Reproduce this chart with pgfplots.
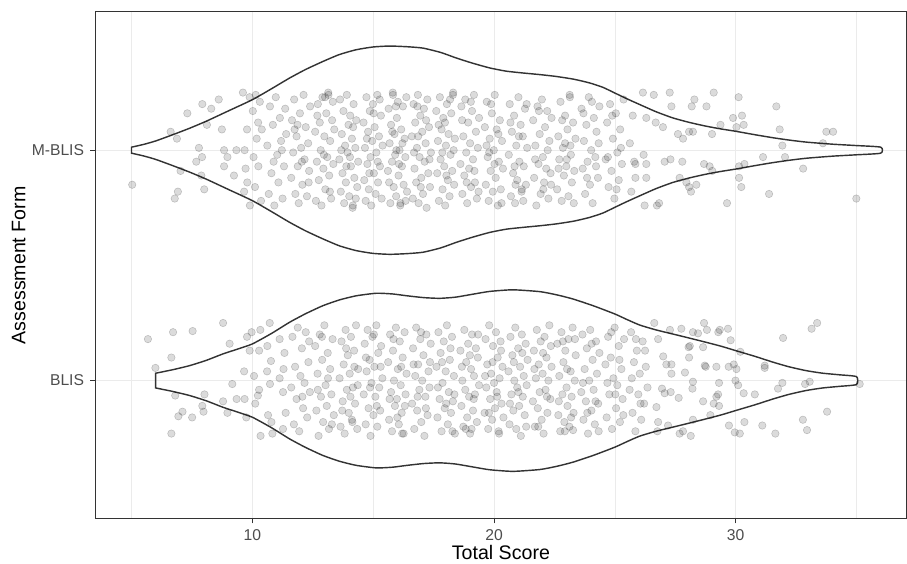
\documentclass[border=0pt]{standalone}
\usepackage{pgfplots}
\usepackage{pgfplotstable}
\pgfplotsset{compat=1.18}
\usepackage{fontspec}
\setmainfont{Liberation Sans}

\definecolor{gray20}{HTML}{333333}
\definecolor{gray30}{HTML}{4D4D4D}
\definecolor{gray92}{HTML}{EBEBEB}

% jittered scores, M-BLIS (centre y=2)
\pgfplotstableread{
x y
5.03 1.85
6.62 2.08
6.88 2.05
6.79 1.79
6.92 1.82
7.03 1.91
7.31 2.16
7.68 1.95
7.79 2.01
7.92 1.97
7.89 1.89
7.93 2.20
8.01 1.83
8.12 2.11
8.30 2.18
8.61 2.22
8.74 2.09
8.83 2.00
8.83 1.93
8.97 1.97
9.24 1.89
9.34 2.00
9.61 2.25
9.68 2.00
9.72 1.92
9.66 1.82
9.78 2.09
9.79 1.86
9.89 2.23
9.90 1.76
10.02 2.17
10.11 1.84
10.18 2.05
10.25 1.93
10.31 2.21
10.36 1.78
10.05 1.97
10.39 2.09
10.14 2.24
10.24 2.12
10.62 2.02
10.68 1.81
10.73 2.19
10.79 1.90
10.85 2.11
10.88 1.95
10.91 1.76
10.97 2.23
11.03 1.98
11.08 1.86
11.14 2.14
11.19 2.04
11.22 2.00
11.25 1.79
11.31 1.93
11.36 2.18
11.40 2.07
11.61 1.88
11.64 2.13
11.69 1.99
11.73 2.22
11.75 2.09
11.78 1.81
11.83 2.06
11.87 2.11
11.88 1.93
11.92 1.77
11.97 2.16
12.02 2.01
12.05 1.95
12.07 1.85
12.12 2.24
12.16 1.96
12.21 2.10
12.26 1.80
12.31 2.03
12.33 1.86
12.35 1.91
12.39 2.19
12.60 2.08
12.63 1.78
12.67 1.95
12.69 2.15
12.71 2.20
12.75 1.87
12.79 2.12
12.83 2.00
12.86 1.76
12.90 2.23
12.94 1.92
12.96 1.98
12.98 2.06
13.01 2.23
13.02 1.83
13.06 2.16
13.10 1.97
13.14 2.25
13.15 2.24
13.18 1.89
13.21 1.82
13.22 2.04
13.26 1.79
13.30 2.13
13.33 2.21
13.35 1.94
13.39 2.09
13.60 1.96
13.63 2.22
13.66 1.82
13.68 2.00
13.70 2.07
13.73 1.90
13.77 2.17
13.80 1.77
13.84 2.02
13.87 1.86
13.89 1.93
13.91 2.24
13.94 1.99
13.98 2.11
14.01 1.80
14.04 1.97
14.05 2.15
14.08 1.93
14.12 2.05
14.15 1.75
14.16 1.76
14.17 2.10
14.19 2.20
14.22 1.88
14.26 2.01
14.28 1.79
14.30 2.13
14.34 1.84
14.38 1.95
14.60 2.12
14.63 1.87
14.66 2.01
14.69 1.78
14.72 2.23
14.74 2.05
14.76 1.94
14.79 2.08
14.82 1.83
14.84 1.90
14.86 2.17
14.89 1.97
14.92 1.76
14.96 2.04
14.99 2.20
15.02 2.16
15.03 1.90
15.06 2.10
15.10 1.81
15.13 1.99
15.17 2.24
15.19 1.95
15.20 1.86
15.24 2.06
15.27 2.22
15.28 1.93
15.32 2.15
15.35 1.79
15.39 2.02
15.61 1.91
15.64 2.18
15.66 1.86
15.68 2.03
15.71 1.77
15.74 2.11
15.78 1.95
15.79 2.08
15.81 2.25
15.82 2.24
15.85 1.84
15.88 2.07
15.91 1.98
15.94 2.19
15.95 1.80
15.96 2.00
15.98 2.14
16.02 2.21
16.05 1.89
16.07 1.94
16.09 2.00
16.12 1.76
16.13 1.77
16.16 2.09
16.19 1.93
16.21 2.03
16.23 2.19
16.26 1.85
16.30 2.05
16.33 1.97
16.34 1.78
16.37 2.23
16.40 1.82
16.60 2.06
16.64 1.79
16.67 2.20
16.69 1.99
16.71 1.92
16.74 2.12
16.78 1.86
16.81 2.01
16.83 2.19
16.85 2.24
16.86 2.06
16.88 1.77
16.92 1.97
16.95 2.15
16.97 1.84
16.99 1.88
17.03 2.08
17.06 1.81
17.10 2.18
17.13 1.95
17.17 2.03
17.19 2.13
17.21 1.75
17.24 2.22
17.28 1.90
17.31 2.10
17.33 1.96
17.35 1.84
17.39 1.99
17.61 2.17
17.65 1.90
17.68 2.04
17.71 2.11
17.72 1.78
17.76 2.23
17.79 1.96
17.83 2.09
17.86 1.99
17.87 1.83
17.90 2.14
17.94 1.93
17.97 2.12
17.98 1.76
18.01 2.02
18.03 1.89
18.05 2.20
18.09 1.87
18.12 2.07
18.16 1.80
18.18 2.22
18.20 1.98
18.23 2.16
18.27 1.91
18.30 2.24
18.31 2.25
18.33 2.00
18.35 1.85
18.38 2.05
18.61 1.94
18.65 2.19
18.68 2.13
18.69 1.81
18.73 2.06
18.77 1.89
18.81 2.22
18.85 1.99
18.87 1.86
18.89 1.77
18.93 2.12
18.97 1.92
19.01 2.03
19.04 2.21
19.05 1.84
19.09 2.17
19.13 1.96
19.17 2.24
19.19 1.91
19.21 1.86
19.25 2.08
19.29 1.79
19.33 2.01
19.36 1.82
19.38 2.14
19.62 2.10
19.66 1.85
19.69 2.02
19.70 2.21
19.74 1.97
19.78 1.78
19.80 1.99
19.82 2.05
19.86 1.91
19.88 2.20
19.91 2.16
19.95 1.82
19.99 2.00
20.02 1.94
20.03 2.24
20.07 1.88
20.11 2.09
20.16 1.76
20.18 2.07
20.20 1.95
20.24 2.13
20.28 1.83
20.31 1.77
20.33 2.04
20.37 1.92
20.61 1.98
20.65 2.20
20.68 2.12
20.70 1.80
20.74 2.08
20.79 1.90
20.83 2.15
20.85 1.93
20.87 1.77
20.89 1.85
20.92 2.02
20.96 1.87
21.01 2.23
21.03 2.06
21.05 1.95
21.10 2.11
21.14 1.82
21.15 1.83
21.19 2.06
21.21 1.78
21.23 1.93
21.28 2.18
21.32 1.85
21.35 2.20
21.37 2.01
21.62 2.13
21.66 1.88
21.70 1.96
21.71 2.02
21.75 1.76
21.80 2.19
21.84 1.94
21.86 2.17
21.89 2.07
21.93 1.81
21.98 2.22
22.02 1.97
22.04 1.83
22.07 1.86
22.11 2.10
22.16 1.92
22.20 2.17
22.22 2.00
22.25 1.79
22.29 2.04
22.34 1.90
22.36 1.85
22.38 2.14
22.61 1.83
22.66 2.06
22.67 1.92
22.70 1.96
22.75 2.21
22.80 1.78
22.82 2.13
22.85 2.01
22.89 1.89
22.94 2.15
22.94 2.03
22.99 1.93
23.01 1.96
23.04 2.09
23.08 1.80
23.13 2.24
23.14 2.23
23.16 2.02
23.18 1.98
23.22 1.86
23.27 2.12
23.30 1.77
23.32 1.91
23.37 2.05
23.62 2.18
23.67 1.92
23.70 2.16
23.72 2.04
23.77 1.81
23.82 2.11
23.85 1.88
23.87 1.95
23.92 2.23
23.97 1.85
24.02 2.00
24.05 2.21
24.08 1.77
24.13 2.14
24.19 1.97
24.22 1.93
24.24 2.08
24.30 1.88
24.33 2.03
24.36 2.19
24.62 1.96
24.68 2.12
24.71 1.97
24.74 1.84
24.80 2.20
24.86 1.91
24.89 2.15
24.92 2.05
24.98 1.79
25.04 2.16
25.07 1.83
25.10 1.99
25.16 1.87
25.22 2.09
25.25 2.01
25.29 1.94
25.36 2.22
25.62 2.03
25.68 1.82
25.74 2.15
25.80 1.95
25.85 1.94
25.85 1.88
26.16 2.25
26.61 2.24
27.27 2.25
27.34 2.19
26.30 2.14
26.69 2.12
26.99 2.10
26.19 1.98
26.30 1.94
27.06 1.95
27.30 1.96
27.79 1.95
26.23 1.76
26.74 1.76
26.83 1.77
26.30 1.88
27.68 1.88
28.07 1.84
28.15 1.82
28.37 1.85
27.96 1.86
27.61 2.07
27.82 2.05
28.07 2.08
28.23 2.08
28.18 2.19
28.29 2.22
28.79 2.19
29.09 2.25
29.02 2.07
29.37 2.11
28.69 1.94
28.92 1.93
29.03 1.91
29.64 1.77
29.89 2.14
30.03 2.10
30.12 2.23
30.26 2.15
30.33 2.11
30.14 1.93
30.36 1.94
30.14 1.88
30.23 1.84
31.13 1.97
31.38 1.81
31.68 2.19
31.82 2.09
31.93 2.02
32.04 1.97
32.79 1.92
33.61 2.03
33.75 2.08
34.03 2.08
34.99 1.79
}\mblis

% jittered scores, BLIS (centre y=1)
\pgfplotstableread{
x y
5.68 1.18
5.99 1.055
6.72 1.21
6.65 1.10
6.81 0.935
6.65 0.77
6.94 0.845
7.11 0.865
7.51 0.84
7.53 1.215
7.93 0.89
7.98 0.865
8.02 0.94
8.79 1.25
8.79 0.91
8.97 0.86
9.06 1.16
9.17 0.985
9.35 0.92
9.66 1.04
9.68 0.92
9.75 0.84
9.78 1.19
9.97 1.21
9.89 1.13
10.07 1.02
10.12 0.90
10.23 0.935
10.28 0.96
10.28 1.13
10.33 1.22
10.34 0.76
10.62 1.15
10.65 0.85
10.72 1.25
10.79 0.82
10.83 0.77
10.73 0.985
10.77 1.085
10.61 1.04
11.13 1.18
11.27 0.79
11.29 1.05
11.13 1.01
11.27 0.95
11.33 1.12
11.38 0.86
11.61 0.97
11.66 1.19
11.72 0.81
11.77 1.06
11.83 0.92
11.88 1.23
11.94 0.78
11.99 1.02
12.05 1.14
12.07 0.93
12.10 0.88
12.16 0.99
12.21 1.21
12.27 0.84
12.32 1.08
12.35 1.17
12.38 0.95
12.60 1.15
12.65 0.87
12.70 1.03
12.71 0.96
12.74 0.76
12.79 1.20
12.84 0.93
12.88 1.19
12.89 1.09
12.93 0.82
12.98 1.24
13.03 0.98
13.08 0.89
13.12 1.12
13.13 1.01
13.17 0.79
13.22 1.05
13.27 0.94
13.29 0.81
13.32 1.18
13.37 0.85
13.61 1.01
13.65 0.80
13.69 1.17
13.72 0.87
13.74 0.91
13.78 1.07
13.82 0.77
13.86 1.22
13.88 1.14
13.91 0.96
13.95 1.11
13.99 0.86
14.03 1.03
14.06 0.93
14.08 1.19
14.12 0.83
14.14 0.82
14.16 0.97
14.21 1.13
14.22 1.06
14.25 0.90
14.29 1.24
14.34 0.79
14.36 0.98
14.38 1.05
14.61 0.94
14.65 1.16
14.69 0.81
14.70 1.10
14.73 1.04
14.77 1.22
14.81 0.88
14.85 1.09
14.87 0.97
14.89 0.76
14.93 0.99
14.97 1.19
15.01 0.85
15.03 1.20
15.05 1.06
15.09 0.93
15.13 1.24
15.15 0.89
15.17 0.80
15.21 1.12
15.25 0.97
15.29 0.87
15.31 1.06
15.33 1.15
15.38 1.01
15.62 1.08
15.66 0.83
15.68 0.92
15.70 1.20
15.74 0.95
15.78 0.78
15.82 1.13
15.84 1.18
15.86 1.00
15.90 0.89
15.94 1.23
15.98 0.92
16.00 0.84
16.02 1.05
16.06 0.81
16.10 1.17
16.14 0.98
16.16 1.06
16.18 0.86
16.20 0.77
16.22 1.10
16.26 0.77
16.30 1.21
16.31 0.89
16.34 0.94
16.38 1.03
16.61 0.90
16.65 1.14
16.67 1.07
16.70 0.79
16.74 1.02
16.78 1.23
16.82 0.87
16.84 0.93
16.86 1.07
16.91 0.96
16.95 1.18
16.98 1.21
16.99 0.82
17.03 1.00
17.08 1.11
17.12 0.76
17.16 0.93
17.18 0.88
17.20 1.20
17.25 0.85
17.29 1.04
17.33 0.97
17.35 1.08
17.38 1.16
17.62 1.06
17.66 0.84
17.68 0.97
17.70 1.21
17.75 0.92
17.79 1.12
17.83 0.78
17.85 1.08
17.87 0.99
17.92 1.17
17.96 0.88
18.00 1.04
18.02 0.90
18.05 1.24
18.09 0.81
18.13 0.95
18.17 1.09
18.20 1.14
18.22 0.86
18.26 1.19
18.28 0.78
18.30 0.91
18.34 1.02
18.36 0.94
18.38 0.77
18.61 1.13
18.65 0.89
18.67 1.06
18.69 1.00
18.73 0.80
18.77 1.22
18.81 0.96
18.83 0.79
18.85 1.08
18.89 0.84
18.93 1.16
18.97 0.93
19.00 1.11
19.01 0.77
19.05 1.05
19.07 0.79
19.09 1.20
19.13 0.87
19.16 0.92
19.17 1.02
19.21 0.94
19.25 1.14
19.29 0.82
19.33 1.10
19.34 1.20
19.38 0.98
19.61 0.86
19.63 1.02
19.65 1.18
19.68 0.97
19.72 1.07
19.76 0.79
19.79 0.86
19.80 1.24
19.84 0.92
19.88 1.03
19.92 0.83
19.94 1.08
19.96 1.15
20.00 0.99
20.04 0.88
20.08 1.21
20.11 0.95
20.13 0.93
20.15 1.10
20.19 0.78
20.21 0.77
20.23 1.01
20.27 1.17
20.29 1.13
20.31 0.90
20.35 1.06
20.39 0.84
20.60 1.04
20.64 0.81
20.66 0.90
20.68 1.19
20.72 0.94
20.76 1.11
20.80 0.87
20.82 1.08
20.84 1.00
20.88 1.23
20.92 0.79
20.96 0.97
21.00 1.14
21.01 0.95
21.04 0.89
21.08 1.06
21.11 0.76
21.15 1.20
21.17 1.12
21.19 0.93
21.23 1.02
21.27 0.85
21.31 1.16
21.33 0.80
21.35 0.98
21.39 1.09
21.61 0.91
21.65 1.13
21.67 1.05
21.69 0.80
21.73 1.01
21.77 1.22
21.81 0.88
21.83 0.80
21.85 1.07
21.89 0.95
21.93 1.17
21.97 0.83
22.01 1.03
22.03 1.12
22.05 0.77
22.09 1.19
22.13 0.96
22.17 1.10
22.19 0.93
22.21 0.86
22.25 1.00
22.29 1.24
22.33 0.92
22.35 1.15
22.38 1.06
22.62 1.16
22.66 0.85
22.68 0.91
22.70 1.02
22.74 0.78
22.79 1.21
22.83 0.94
22.85 1.17
22.87 1.08
22.91 0.82
22.93 0.78
22.95 1.13
23.00 0.97
23.02 1.05
23.04 0.89
23.08 1.18
23.12 0.80
23.17 1.04
23.19 0.84
23.21 0.93
23.25 1.23
23.27 0.785
23.29 0.86
23.34 1.00
23.35 1.18
23.38 1.11
23.61 0.95
23.66 1.20
23.68 0.99
23.70 0.83
23.75 1.05
23.80 0.91
23.84 1.14
23.86 0.86
23.89 0.77
23.94 1.00
23.98 1.22
24.03 0.87
24.04 1.16
24.08 1.09
24.12 0.96
24.17 0.81
24.20 0.91
24.22 1.17
24.26 1.03
24.31 0.90
24.33 0.78
24.36 1.12
24.61 1.07
24.66 0.84
24.69 0.99
24.72 1.19
24.77 0.94
24.83 1.10
24.85 1.21
24.88 0.79
24.94 1.01
24.99 1.23
25.02 0.94
25.05 0.88
25.10 0.98
25.16 1.15
25.19 1.09
25.21 0.82
25.27 1.05
25.32 0.92
25.35 0.85
25.38 1.18
25.61 0.96
25.67 1.21
25.70 1.01
25.73 0.86
25.79 1.08
25.85 0.78
25.87 1.18
25.91 1.13
25.97 0.94
26.03 1.03
26.06 0.90
26.09 0.83
26.15 1.17
26.21 0.90
26.25 1.13
26.28 1.06
26.35 0.97
26.63 1.25
26.79 1.18
27.00 1.105
27.13 1.07
27.34 1.07
27.34 1.03
27.28 1.22
27.75 1.225
26.95 0.965
27.06 0.945
27.31 0.95
27.64 0.925
26.72 0.885
26.79 0.82
27.20 0.805
26.76 0.78
27.68 0.77
27.82 0.78
28.14 0.76
27.90 1.035
28.07 1.10
28.05 1.145
28.10 1.15
28.23 1.21
28.44 1.205
28.69 1.25
28.81 1.22
28.65 1.145
28.72 1.065
28.76 1.06
28.23 0.995
28.21 0.965
28.65 0.91
28.95 0.85
28.23 0.83
29.20 1.06
29.28 1.21
29.34 1.22
29.68 1.225
29.79 1.175
29.71 1.06
29.92 1.07
30.03 1.05
29.99 1.00
30.10 0.98
29.31 0.99
29.27 0.94
29.20 0.93
29.09 0.90
29.31 0.89
30.19 1.125
30.33 0.945
30.79 0.94
30.36 0.82
29.72 0.805
29.96 0.775
30.17 0.77
31.10 0.805
31.20 1.065
31.20 1.055
31.64 0.77
31.75 0.965
31.93 0.99
31.96 1.185
32.78 0.83
32.95 0.785
32.87 0.985
33.06 0.995
33.14 1.225
33.37 1.25
33.78 0.865
35.13 0.985
}\blis

\begin{document}
\begin{tikzpicture}
\useasboundingbox (-53.3pt,-25.2pt) rectangle (455.6pt,291.1pt);
\begin{axis}[
  at={(0pt,0pt)}, anchor=south west,
  scale only axis, width=455.5pt, height=284.4pt,
  xmin=3.49, xmax=37.08, ymin=0.4, ymax=2.6,
  xtick={10,20,30}, minor xtick={5,15,25,35},
  ytick={1,2}, yticklabels={BLIS,M-BLIS},
  grid=both,
  major grid style={color=gray92, line width=0.55pt},
  minor grid style={color=gray92, line width=0.3pt},
  axis line style={color=gray20, line width=0.5pt},
  tick align=outside, major tick length=2.6pt, minor tick length=0pt,
  tick style={color=gray20, line width=0.5pt},
  xtick pos=bottom, ytick pos=left,
  /pgf/number format/assume math mode=true,
  ticklabel style={font=\fontsize{8.8}{10}\selectfont, text=gray30},
  xlabel={Total Score}, ylabel={Assessment Form},
  label style={font=\fontsize{11}{13}\selectfont, text=black},
  xlabel style={at={(axis description cs:0.5,-0.066)}, anchor=center},
  ylabel style={at={(axis description cs:-0.094,0.5)}, anchor=center},
  clip=true,
]
% violin outlines, no fill (half-widths)
\addplot[draw=gray20, line width=0.8pt, smooth, tension=0.35] coordinates {
  (5.0,2.013) (5.5,2.025) (6.0,2.040) (6.73,2.068) (7.4,2.095) (8.1,2.126)
  (9.0,2.17) (10,2.219) (10.8,2.267) (11.54,2.313) (12.2,2.35) (12.92,2.385)
  (13.6,2.415) (14.3,2.436) (15.0,2.448) (15.68,2.452) (16.4,2.449) (17.06,2.443)
  (17.8,2.424) (18.44,2.40) (19.1,2.378) (19.82,2.357) (20.5,2.343) (21.2,2.335)
  (21.9,2.328) (22.57,2.32) (23.3,2.308) (23.95,2.292) (24.5,2.273) (25,2.248)
  (25.5,2.223) (26.03,2.198) (26.7,2.167) (27.4,2.14) (28.1,2.12) (28.78,2.104)
  (29.4,2.092) (30,2.082) (30.8,2.067) (31.54,2.054) (32.2,2.044) (32.92,2.035)
  (34,2.026) (35,2.020) (36,2.013)
  (36,1.987) (35,1.980) (34,1.974) (32.92,1.965) (32.2,1.956) (31.54,1.946)
  (30.8,1.933) (30,1.918) (29.4,1.908) (28.78,1.896) (28.1,1.88) (27.4,1.86)
  (26.7,1.833) (26.03,1.802) (25.5,1.777) (25,1.752) (24.5,1.727) (23.95,1.708)
  (23.3,1.692) (22.57,1.68) (21.9,1.672) (21.2,1.665) (20.5,1.657) (19.82,1.643)
  (19.1,1.622) (18.44,1.60) (17.8,1.576) (17.06,1.557) (16.4,1.551) (15.68,1.548)
  (15.0,1.552) (14.3,1.564) (13.6,1.585) (12.92,1.615) (12.2,1.65) (11.54,1.687)
  (10.8,1.733) (10,1.781) (9.0,1.83) (8.1,1.874) (7.4,1.905) (6.73,1.932)
  (6.0,1.960) (5.5,1.975) (5.0,1.987)
} -- cycle;
\addplot[draw=gray20, line width=0.8pt, smooth, tension=0.35] coordinates {
  (6.0,1.032) (6.7,1.047) (7.41,1.065) (8.1,1.088) (8.79,1.116) (9.4,1.137)
  (10,1.159) (10.8,1.205) (11.54,1.253) (12.2,1.29) (12.92,1.325) (13.6,1.35)
  (14.3,1.368) (15.13,1.379) (15.8,1.376) (16.4,1.368) (17.1,1.36) (17.75,1.357)
  (18.4,1.362) (19.13,1.375) (19.82,1.387) (20.78,1.394) (21.9,1.386) (22.6,1.372)
  (23.27,1.354) (24.1,1.325) (25,1.289) (25.5,1.265) (26.03,1.241) (26.7,1.22)
  (27.4,1.202) (28.1,1.184) (28.78,1.166) (29.4,1.149) (30,1.13) (30.8,1.105)
  (31.54,1.08) (32.2,1.06) (32.92,1.043) (33.6,1.032) (34.3,1.025) (35.0,1.017)
  (35.0,0.983) (34.3,0.975) (33.6,0.968) (32.92,0.957) (32.2,0.94) (31.54,0.92)
  (30.8,0.895) (30,0.87) (29.4,0.851) (28.78,0.834) (28.1,0.816) (27.4,0.798)
  (26.7,0.78) (26.03,0.759) (25.5,0.735) (25,0.711) (24.1,0.675) (23.27,0.646)
  (22.6,0.628) (21.9,0.614) (20.78,0.606) (19.82,0.613) (19.13,0.625) (18.4,0.638)
  (17.75,0.643) (17.1,0.64) (16.4,0.632) (15.8,0.624) (15.13,0.621) (14.3,0.632)
  (13.6,0.65) (12.92,0.675) (12.2,0.71) (11.54,0.747) (10.8,0.795) (10,0.841)
  (9.4,0.863) (8.79,0.884) (8.1,0.912) (7.41,0.935) (6.7,0.953) (6.0,0.968)
} -- cycle;
% jittered points, drawn over the outlines
\addplot[only marks, mark=*, mark size=2.1pt,
  mark options={fill=black, fill opacity=0.14, draw=black, draw opacity=0.2, line width=0.3pt}]
  table[x=x, y=y] {\mblis};
\addplot[only marks, mark=*, mark size=2.1pt,
  mark options={fill=black, fill opacity=0.14, draw=black, draw opacity=0.2, line width=0.3pt}]
  table[x=x, y=y] {\blis};
\end{axis}
\end{tikzpicture}
\end{document}
